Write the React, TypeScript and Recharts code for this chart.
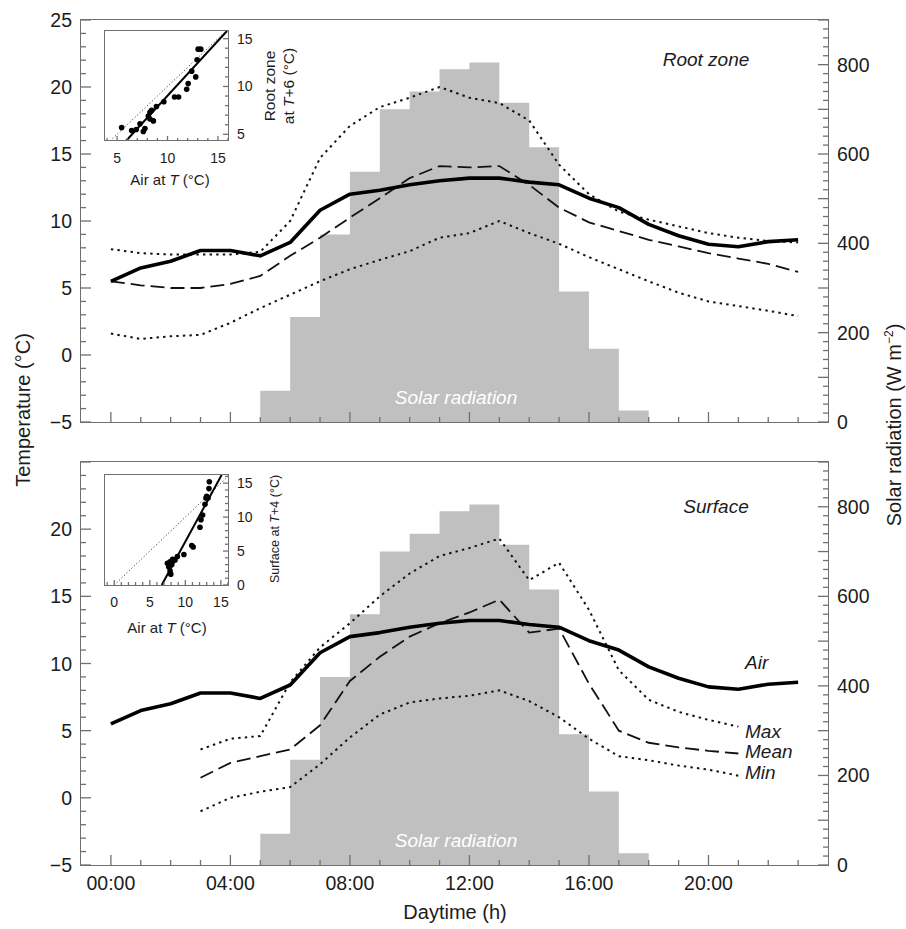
import React from "react";
import {
  ComposedChart,
  ScatterChart,
  Area,
  Line,
  Scatter,
  XAxis,
  YAxis,
} from "recharts";

// hourly values, 00:00 .. 23:00
const hours = [0, 1, 2, 3, 4, 5, 6, 7, 8, 9, 10, 11, 12, 13, 14, 15, 16, 17, 18, 19, 20, 21, 22, 23];
const airTemp = [5.5, 6.5, 7.0, 7.8, 7.8, 7.4, 8.4, 10.8, 12.0, 12.3, 12.7, 13.0, 13.2, 13.2, 12.9, 12.7, 11.7, 11.0, 9.75, 8.9, 8.26, 8.08, 8.46, 8.6];
const rootMax = [7.9, 7.6, 7.5, 7.5, 7.5, 7.7, 10.0, 14.7, 17.1, 18.5, 19.2, 20.0, 19.2, 18.8, 17.5, 14.2, 12.0, 10.7, 10.1, 9.6, 9.1, 8.75, 8.5, 8.4];
const rootMean = [5.5, 5.2, 5.0, 5.0, 5.3, 5.9, 7.4, 8.75, 10.25, 11.7, 13.2, 14.1, 14.0, 14.1, 12.7, 11.0, 9.9, 9.25, 8.6, 8.1, 7.6, 7.2, 6.8, 6.2];
const rootMin = [1.6, 1.2, 1.4, 1.5, 2.4, 3.5, 4.5, 5.5, 6.4, 7.1, 7.75, 8.75, 9.1, 10.0, 9.1, 8.3, 7.3, 6.4, 5.5, 4.65, 4.0, 3.65, 3.3, 2.9];
const surfMax = [null, null, null, 3.6, 4.4, 4.6, 8.6, 11.2, 13.0, 15.0, 16.7, 18.0, 18.6, 19.3, 16.2, 17.5, 14.0, 9.5, 7.3, 6.4, 5.8, 5.3, null, null];
const surfMean = [null, null, null, 1.5, 2.6, 3.1, 3.6, 5.4, 8.7, 10.5, 12.0, 13.0, 13.8, 14.75, 12.3, 12.6, 8.5, 5.0, 4.1, 3.75, 3.5, 3.3, null, null];
const surfMin = [null, null, null, -1.0, 0.0, 0.45, 0.8, 2.5, 4.5, 6.2, 7.1, 7.4, 7.6, 8.0, 7.2, 6.0, 4.4, 3.1, 2.8, 2.4, 2.1, 1.65, null, null];
// W m-2, value at hour h holds for the interval h..h+1
const solarRadiation = [null, null, null, null, null, 70, 235, 420, 560, 700, 740, 790, 805, 715, 615, 292, 164, 26, 0, null, null, null, null, null];

// inset scatter: air at T vs root zone at T+6
const rootInsetAir = [5.45, 6.44, 6.9, 7.27, 7.6, 7.76, 8.1, 8.26, 8.42, 8.26, 8.6, 8.9, 9.64, 10.7, 11.1, 11.9, 12.05, 12.4, 12.8, 12.94, 13.04, 13.3];
const rootInsetZone = [5.7, 5.4, 5.5, 6.1, 5.3, 5.6, 6.9, 7.3, 7.5, 6.6, 6.4, 7.9, 8.4, 8.9, 8.9, 9.7, 10.3, 11.6, 11.0, 12.8, 13.9, 13.9];
const rootFitAir = [5.88, 15.9];
const rootFitZone = [4.3, 15.8];
const rootOneToOne = [4.3, 15.8];

// inset scatter: air at T vs surface at T+4
const surfInsetAir = [13.37, 13.32, 13.0, 12.9, 13.2, 12.76, 12.43, 12.2, 12.06, 10.9, 11.1, 9.8, 8.88, 8.2, 7.85, 7.48, 7.66, 7.85, 7.95, 8.08, 8.55];
const surfInsetSurf = [15.2, 14.2, 13.05, 12.8, 12.8, 11.9, 10.3, 9.6, 8.5, 5.8, 5.6, 4.5, 4.2, 3.8, 3.4, 3.2, 2.7, 2.1, 1.6, 3.0, 3.7];
const surfFitAir = [6.68, 15.1];
const surfFitSurf = [0, 16.2];
const surfOneToOne = [0, 16];

// tick labels
const topTempLabels = [25, 20, 15, 10, 5, 0, -5];
const bottomTempLabels = [20, 15, 10, 5, 0, -5];
const solarLabels = [0, 200, 400, 600, 800];
const hourLabels: Record<number, string> = { 0: "00:00", 4: "04:00", 8: "08:00", 12: "12:00", 16: "16:00", 20: "20:00" };
const rootInsetXLabels = [5, 10, 15];
const rootInsetYLabels = [5, 10, 15];
const surfInsetXLabels = [0, 5, 10, 15];
const surfInsetYLabels = [0, 5, 10, 15];

const FONT = '"Liberation Sans", Arial, Helvetica, sans-serif';
const AXIS = "#707070";
const INK = "#1c1c1c";
const TICK_FONT = 19.5;

const range = (a: number, b: number, step = 1) => {
  const out: number[] = [];
  for (let v = a; v <= b + 1e-9; v += step) out.push(Math.round(v * 100) / 100);
  return out;
};
const fmt = (v: number) => (v < 0 ? "\u2212" + Math.abs(v) : String(v));

type TickOpts = {
  side: "left" | "right" | "bottom";
  isMajor: (v: number) => boolean;
  labelOf: (v: number) => string | null;
  majorLen: number;
  minorLen: number;
  fontSize: number;
  gap: number;
};

// ticks drawn inward from the frame, labels outside
function tickRenderer(o: TickOpts) {
  return (props: any) => {
    const { x, y, payload } = props;
    const v = payload.value;
    const len = o.isMajor(v) ? o.majorLen : o.minorLen;
    const lbl = o.labelOf(v);
    const ts = { fontSize: o.fontSize, fill: INK, fontFamily: FONT };
    if (o.side === "left") {
      return (
        <g>
          <line x1={x} y1={y} x2={x + len} y2={y} stroke={AXIS} strokeWidth={1.3} />
          {lbl != null && (
            <text x={x - o.gap} y={y} textAnchor="end" dominantBaseline="central" style={ts}>{lbl}</text>
          )}
        </g>
      );
    }
    if (o.side === "right") {
      return (
        <g>
          <line x1={x - len} y1={y} x2={x} y2={y} stroke={AXIS} strokeWidth={1.3} />
          {lbl != null && (
            <text x={x + o.gap} y={y} textAnchor="start" dominantBaseline="central" style={ts}>{lbl}</text>
          )}
        </g>
      );
    }
    return (
      <g>
        <line x1={x} y1={y - len} x2={x} y2={y} stroke={AXIS} strokeWidth={1.3} />
        {lbl != null && (
          <text x={x} y={y + o.gap} textAnchor="middle" dominantBaseline="central" style={ts}>{lbl}</text>
        )}
      </g>
    );
  };
}

function Txt(props: {
  x: number; y: number; size?: number; italic?: boolean; color?: string;
  rotate?: boolean; left?: boolean; lh?: number; children: React.ReactNode;
}) {
  const { x, y, size = 19, italic, color = INK, rotate, left, lh = 1.15 } = props;
  const tr = (left ? "translate(0,-50%)" : "translate(-50%,-50%)") + (rotate ? " rotate(-90deg)" : "");
  return (
    <div
      style={{
        position: "absolute", left: x, top: y, transform: tr, fontSize: size,
        fontStyle: italic ? "italic" : "normal", color, whiteSpace: "nowrap",
        lineHeight: lh, textAlign: "center", fontFamily: FONT,
      }}
    >
      {props.children}
    </div>
  );
}

function Frame({ x, y, w, h, bw = 1.6 }: { x: number; y: number; w: number; h: number; bw?: number }) {
  return (
    <div
      style={{
        position: "absolute", left: x - bw / 2, top: y - bw / 2, width: w + bw, height: h + bw,
        border: `${bw}px solid ${AXIS}`, boxSizing: "border-box", pointerEvents: "none",
      }}
    />
  );
}

const DOT = "2.4 4.2";
const DASH = "14 6";

function DayPanel({ rows, kind, tempLabels, showHours }: { rows: any[]; kind: "root" | "surf"; tempLabels: number[]; showHours: boolean }) {
  const height = showHours ? 489 : 445;
  const margin = showHours ? { top: 22, right: 0, bottom: 34, left: 0 } : { top: 20, right: 0, bottom: 21, left: 0 };
  return (
    <ComposedChart width={906} height={height} data={rows} margin={margin}>
      <XAxis
        dataKey="hour" type="number" domain={[-1, 24]} ticks={hours} interval={0}
        height={showHours ? 30 : 2} axisLine={false} tickLine={false} tickSize={0} tickMargin={0}
        allowDataOverflow
        tick={tickRenderer({
          side: "bottom", isMajor: (v) => v % 4 === 0,
          labelOf: (v) => (showHours && hourLabels[v] !== undefined ? hourLabels[v] : null),
          majorLen: 10, minorLen: 5, fontSize: TICK_FONT, gap: 18,
        })}
      />
      <YAxis
        yAxisId="t" domain={[-5, 25]} ticks={range(-5, 25)} interval={0} width={81}
        axisLine={false} tickLine={false} tickSize={0} tickMargin={0} allowDataOverflow
        tick={tickRenderer({
          side: "left", isMajor: (v) => v % 5 === 0,
          labelOf: (v) => (tempLabels.includes(v) ? fmt(v) : null),
          majorLen: 10, minorLen: 5, fontSize: TICK_FONT, gap: 9,
        })}
      />
      <YAxis
        yAxisId="s" orientation="right" domain={[0, 900]} ticks={range(0, 900, 20)} interval={0} width={78}
        axisLine={false} tickLine={false} tickSize={0} tickMargin={0} allowDataOverflow
        tick={tickRenderer({
          side: "right", isMajor: (v) => v % 100 === 0,
          labelOf: (v) => (solarLabels.includes(v) ? String(v) : null),
          majorLen: 10, minorLen: 5, fontSize: TICK_FONT, gap: 9,
        })}
      />
      <Area
        yAxisId="s" type="stepAfter" dataKey="solar" fill="#c0c0c0" fillOpacity={1}
        stroke="none" isAnimationActive={false} dot={false} activeDot={false}
      />
      <Line yAxisId="t" type="linear" dataKey={kind + "Max"} stroke="#111" strokeWidth={2} strokeDasharray={DOT} dot={false} activeDot={false} isAnimationActive={false} />
      <Line yAxisId="t" type="linear" dataKey={kind + "Min"} stroke="#111" strokeWidth={2} strokeDasharray={DOT} dot={false} activeDot={false} isAnimationActive={false} />
      <Line yAxisId="t" type="linear" dataKey={kind + "Mean"} stroke="#111" strokeWidth={1.8} strokeDasharray={DASH} dot={false} activeDot={false} isAnimationActive={false} />
      <Line yAxisId="t" type="linear" dataKey="air" stroke="#000" strokeWidth={3.6} strokeLinejoin="round" dot={false} activeDot={false} isAnimationActive={false} />
    </ComposedChart>
  );
}

function Inset(props: {
  xDomain: [number, number]; yDomain: [number, number]; xTicks: number[]; yTicks: number[];
  xLabels: number[]; yLabels: number[]; points: { x: number; y: number }[];
  fit: { x: number; y: number }[]; diag: { x: number; y: number }[]; top: number;
}) {
  const { xDomain, yDomain, xTicks, yTicks, xLabels, yLabels, points, fit, diag, top } = props;
  return (
    <ScatterChart width={200} height={170} margin={{ top, right: 0, bottom: 0, left: 20 }}>
      <XAxis
        dataKey="x" type="number" domain={xDomain} ticks={xTicks} interval={0} height={170 - top - 110}
        axisLine={false} tickLine={false} tickSize={0} tickMargin={0} allowDataOverflow
        tick={tickRenderer({
          side: "bottom", isMajor: (v) => v % 5 === 0,
          labelOf: (v) => (xLabels.includes(v) ? String(v) : null),
          majorLen: 5, minorLen: 3, fontSize: 14, gap: 17,
        })}
      />
      <YAxis
        yAxisId="l" dataKey="y" type="number" domain={yDomain} ticks={yTicks} interval={0} width={0}
        axisLine={false} tickLine={false} tickSize={0} tickMargin={0} allowDataOverflow
        tick={tickRenderer({
          side: "left", isMajor: (v) => v % 5 === 0, labelOf: () => null,
          majorLen: 5, minorLen: 3, fontSize: 14, gap: 8,
        })}
      />
      <YAxis
        yAxisId="r" orientation="right" dataKey="y" type="number" domain={yDomain} ticks={yTicks} interval={0} width={57}
        axisLine={false} tickLine={false} tickSize={0} tickMargin={0} allowDataOverflow
        tick={tickRenderer({
          side: "right", isMajor: (v) => v % 5 === 0,
          labelOf: (v) => (yLabels.includes(v) ? String(v) : null),
          majorLen: 5, minorLen: 3, fontSize: 14, gap: 9,
        })}
      />
      <Scatter
        yAxisId="r" data={diag} isAnimationActive={false}
        line={{ stroke: "#444", strokeWidth: 1, strokeDasharray: "1.2 2.2" }}
        shape={() => <g />}
      />
      <Scatter
        yAxisId="r" data={fit} isAnimationActive={false}
        line={{ stroke: "#000", strokeWidth: 2 }}
        shape={() => <g />}
      />
      <Scatter
        yAxisId="r" data={points} isAnimationActive={false}
        shape={(p: any) => <circle cx={p.cx} cy={p.cy} r={2.8} fill="#000" />}
      />
    </ScatterChart>
  );
}

export default function App() {
  const rows = hours.map((h, i) => ({
    hour: h,
    air: airTemp[i],
    rootMax: rootMax[i],
    rootMean: rootMean[i],
    rootMin: rootMin[i],
    surfMax: surfMax[i],
    surfMean: surfMean[i],
    surfMin: surfMin[i],
    solar: solarRadiation[i],
  }));
  const rootPts = rootInsetAir.map((a, i) => ({ x: a, y: rootInsetZone[i] }));
  const rootFit = rootFitAir.map((a, i) => ({ x: a, y: rootFitZone[i] }));
  const rootDiag = rootOneToOne.map((a) => ({ x: a, y: a }));
  const surfPts = surfInsetAir.map((a, i) => ({ x: a, y: surfInsetSurf[i] }));
  const surfFit = surfFitAir.map((a, i) => ({ x: a, y: surfFitSurf[i] }));
  const surfDiag = surfOneToOne.map((a) => ({ x: a, y: a }));

  return (
    <div style={{ position: "absolute", left: 0, top: 0, width: 906, height: 929, background: "#fff", fontFamily: FONT, overflow: "hidden" }}>
      <div style={{ position: "absolute", left: 0, top: 0 }}>
        <DayPanel rows={rows} kind="root" tempLabels={topTempLabels} showHours={false} />
      </div>
      <div style={{ position: "absolute", left: 0, top: 440 }}>
        <DayPanel rows={rows} kind="surf" tempLabels={bottomTempLabels} showHours={true} />
      </div>

      <div style={{ position: "absolute", left: 85, top: 15 }}>
        <Inset
          xDomain={[3.8, 16]} yDomain={[4.3, 15.8]} xTicks={range(4, 16)} yTicks={range(5, 15)}
          xLabels={rootInsetXLabels} yLabels={rootInsetYLabels}
          points={rootPts} fit={rootFit} diag={rootDiag} top={16}
        />
      </div>
      <Frame x={105} y={31} w={123} h={109} bw={1.4} />
      <Txt x={170} y={180} size={15}>Air at <i>T</i> (°C)</Txt>
      <Txt x={280} y={86} size={15.5} rotate lh={1.2}>
        Root zone<br />at <i>T</i>+6 (°C)
      </Txt>

      <div style={{ position: "absolute", left: 85, top: 460 }}>
        <Inset
          xDomain={[-1.3, 16]} yDomain={[0, 16.2]} xTicks={range(-1, 16)} yTicks={range(0, 16)}
          xLabels={surfInsetXLabels} yLabels={surfInsetYLabels}
          points={surfPts} fit={surfFit} diag={surfDiag} top={15}
        />
      </div>
      <Frame x={105} y={475} w={123} h={110} bw={1.4} />
      <Txt x={167} y={628} size={15}>Air at <i>T</i> (°C)</Txt>
      <Txt x={275} y={529} size={12.5} rotate>
        Surface at <i>T</i>+4 (°C)
      </Txt>

      <Frame x={81} y={20} w={747} h={402} />
      <Frame x={81} y={462} w={747} h={403} />

      <Txt x={706} y={60} italic>Root zone</Txt>
      <Txt x={716} y={507} italic>Surface</Txt>
      <Txt x={456} y={398} italic color="#fff">Solar radiation</Txt>
      <Txt x={456} y={841} italic color="#fff">Solar radiation</Txt>
      <Txt x={745} y={663} italic left>Air</Txt>
      <Txt x={745} y={732} italic left>Max</Txt>
      <Txt x={745} y={752} italic left>Mean</Txt>
      <Txt x={745} y={773} italic left>Min</Txt>

      <Txt x={23} y={410} size={20} rotate>Temperature (°C)</Txt>
      <Txt x={894} y={425} size={20} rotate>
        Solar radiation (W m<sup style={{ fontSize: 12, lineHeight: 0 }}>{"\u22122"}</sup>)
      </Txt>
      <Txt x={455} y={912} size={20}>Daytime (h)</Txt>
    </div>
  );
}
